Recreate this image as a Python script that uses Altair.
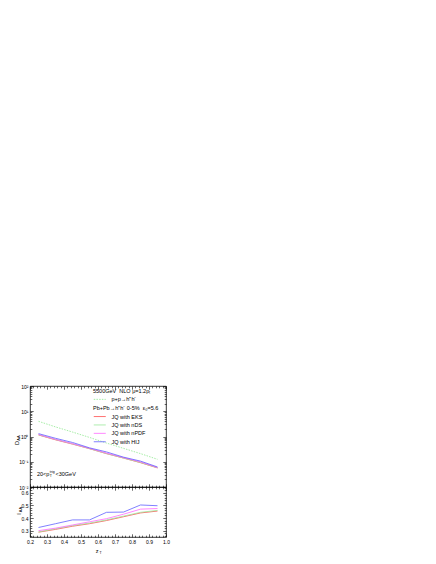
import altair as alt
import pandas as pd

FONT = "Liberation Sans"

# ---------------- data ----------------
z = [0.25, 0.35, 0.45, 0.55, 0.65, 0.75, 0.85, 0.95]
d_pp = [4.0, 2.4, 1.5, 0.92, 0.55, 0.34, 0.21, 0.125]
d_eks = [1.15, 0.74, 0.50, 0.33, 0.21, 0.14, 0.092, 0.057]
d_nds = [1.16, 0.76, 0.51, 0.33, 0.21, 0.14, 0.093, 0.058]
d_npdf = [1.2, 0.77, 0.52, 0.34, 0.22, 0.146, 0.099, 0.059]
d_hij = [1.3, 0.85, 0.58, 0.355, 0.245, 0.152, 0.106, 0.062]
i_eks = [0.288, 0.31, 0.335, 0.355, 0.38, 0.41, 0.44, 0.455]
i_nds = [0.29, 0.315, 0.34, 0.36, 0.385, 0.415, 0.445, 0.46]
i_npdf = [0.30, 0.32, 0.345, 0.37, 0.395, 0.43, 0.47, 0.475]
i_hij = [0.325, 0.355, 0.385, 0.385, 0.445, 0.447, 0.503, 0.497]

pp_name = "p+p\u2192h\u207ah\u207b"
aa_names = ["JQ with EKS", "JQ with nDS", "JQ with nPDF", "JQ with HIJ"]
aa_colors = ["#ff4d4d", "#9be89b", "#ff6aff", "#5f5fff"]
pp_color = "#8fe88f"
hdr1 = "5500GeV\u00a0\u00a0NLO\u00a0\u03bc=1.2p\u209c"
hdr2 = "Pb+Pb\u2192h\u207ah\u207b 0-5%\u00a0\u00a0\u03b5\u2080=5.6"

x_major = [0.2, 0.3, 0.4, 0.5, 0.6, 0.7, 0.8, 0.9, 1.0]
x_minor = [round(0.2 + 0.02 * i, 2) for i in range(41) if i % 5]
y1_major = [0.01, 0.1, 1, 10, 100]
y1_labels = ["10\u207b\u00b2", "10\u207b\u00b9", "10\u2070", "10\u00b9", "10\u00b2"]
y1_minor = [round(k * 10 ** e, 6) for e in range(-2, 2) for k in range(2, 10)]
y2_major = [0.3, 0.4, 0.5, 0.6]
y2_minor = [round(0.26 + 0.02 * i, 2) for i in range(20) if round(0.26 + 0.02 * i, 2) not in (0.3, 0.4, 0.5, 0.6) and 0.26 + 0.02 * i < 0.645]

pp_df = pd.DataFrame({"z": z, "v": d_pp, "s": pp_name})
aa_df = pd.concat([pd.DataFrame({"z": z, "v": v, "s": n}) for v, n in zip([d_eks, d_nds, d_npdf, d_hij], aa_names)])
ia_df = pd.concat([pd.DataFrame({"z": z, "v": v, "s": n}) for v, n in zip([i_eks, i_nds, i_npdf, i_hij], aa_names)])

# ---------------- layout ----------------
W, H1, H2 = 136, 101, 50
xs = alt.Scale(domain=[0.2, 1.0], nice=False, zero=False)
ys1 = alt.Scale(type="log", domain=[0.01, 100], nice=False)
ys2 = alt.Scale(domain=[0.25, 0.645], nice=False, zero=False)

label_expr = " : ".join(
    f"datum.value < {v * 3} ? '{l}'" for v, l in zip(y1_major[:-1], y1_labels[:-1])
) + f" : '{y1_labels[-1]}'"


def tick_axis(orient, values, size):
    return alt.Axis(orient=orient, values=values, labels=False, domain=False, grid=False,
                    ticks=True, tickSize=size, offset=-size, tickColor="black",
                    tickWidth=0.6, title=None)


def tick_layers(df, yscale, ymaj, ymin):
    out = []
    for xo, yo, xv, yv, s in [("bottom", "left", x_major, ymaj, 3.2),
                              ("bottom", "left", x_minor, ymin, 1.8),
                              ("top", "right", x_major, ymaj, 3.2),
                              ("top", "right", x_minor, ymin, 1.8)]:
        out.append(alt.Chart(df).mark_point(opacity=0, size=1).encode(
            x=alt.X("z:Q", scale=xs, axis=tick_axis(xo, xv, s)),
            y=alt.Y("v:Q", scale=yscale, axis=tick_axis(yo, yv, s))))
    return out


def txt(t, x, y, size=5.5, angle=0, align="left"):
    return alt.Chart(pd.DataFrame({"t": [t]})).mark_text(
        fontSize=size, angle=angle, align=align, baseline="middle", font=FONT, color="black"
    ).encode(x=alt.value(x), y=alt.value(y), text="t:N")


def legend(title, y, dash=None):
    kw = dict(title=title, orient="none", legendX=63, legendY=y, symbolType="M-3,0H3",
              symbolSize=16, symbolStrokeWidth=0.8, symbolOffset=4, labelOffset=9,
              labelFontSize=5.5, titleFontSize=5.5, titleFontWeight="normal", titlePadding=2.5,
              padding=0, rowPadding=1.4, labelFont=FONT, titleFont=FONT, titleColor="black",
              labelColor="black", titleLimit=300, labelLimit=300)
    if dash:
        kw["symbolDash"] = dash
    return alt.Legend(**kw)


pp_line = alt.Chart(pp_df).mark_line(strokeWidth=0.8, strokeDash=[1.5, 1.2]).encode(
    x=alt.X("z:Q", scale=xs, axis=None),
    y=alt.Y("v:Q", scale=ys1, axis=alt.Axis(orient="left", values=y1_major, labelExpr=label_expr,
                                             ticks=False, domain=False, grid=False, title=None,
                                             labelFontSize=5, labelPadding=2, labelFlush=False)),
    color=alt.Color("s:N", scale=alt.Scale(domain=[pp_name], range=[pp_color]),
                    legend=legend(hdr1, 2.6, [1.5, 1.2])))

aa_line = alt.Chart(aa_df).mark_line(strokeWidth=0.8).encode(
    x=alt.X("z:Q", scale=xs, axis=None),
    y=alt.Y("v:Q", scale=ys1, axis=None),
    color=alt.Color("s:N", scale=alt.Scale(domain=aa_names, range=aa_colors),
                    legend=legend(hdr2, 19.8)))

top = alt.layer(
    pp_line, aa_line, *tick_layers(pp_df, ys1, y1_major, y1_minor),
    txt("D", -13, 57, 5.5, 270, "center"),
    txt("AA", -11.5, 52, 4, 270, "center"),
    txt("20<p", 7, 88),
    txt("trig", 19.8, 86, 3.5),
    txt("T", 19.8, 90, 3.5),
    txt("<30GeV", 25.5, 88),
).resolve_scale(color="independent").resolve_axis(x="independent", y="independent").properties(
    width=W, height=H1)

ia_line = alt.Chart(ia_df).mark_line(strokeWidth=0.8).encode(
    x=alt.X("z:Q", scale=xs, axis=alt.Axis(orient="bottom", values=x_major, format=".1f", ticks=False,
                                            domain=False, grid=False, title=None, labelFontSize=5,
                                            labelPadding=2, labelFlush=False)),
    y=alt.Y("v:Q", scale=ys2, axis=alt.Axis(orient="left", values=y2_major, format=".1f", ticks=False,
                                             domain=False, grid=False, title=None, labelFontSize=5,
                                             labelPadding=2, labelFlush=False)),
    color=alt.Color("s:N", scale=alt.Scale(domain=aa_names, range=aa_colors), legend=None))

bottom = alt.layer(
    ia_line, *tick_layers(ia_df, ys2, y2_major, y2_minor),
    txt("I", -11, 27, 5.5, 270, "center"),
    txt("AA", -9.5, 22.5, 4, 270, "center"),
    txt("z", 67, 64, 5.5, 0, "center"),
    txt("T", 69.5, 65.5, 3.5),
).resolve_axis(x="independent", y="independent").properties(width=W, height=H2)

chart = alt.vconcat(top, bottom, spacing=0, bounds="flush").properties(
    padding={"left": 6, "top": 375, "right": 5, "bottom": 5}
).configure_view(stroke="black", strokeWidth=0.8).configure_axis(
    labelFont=FONT, labelColor="black")

chart.save("out.html", embed_options={"renderer": "svg", "actions": False})
